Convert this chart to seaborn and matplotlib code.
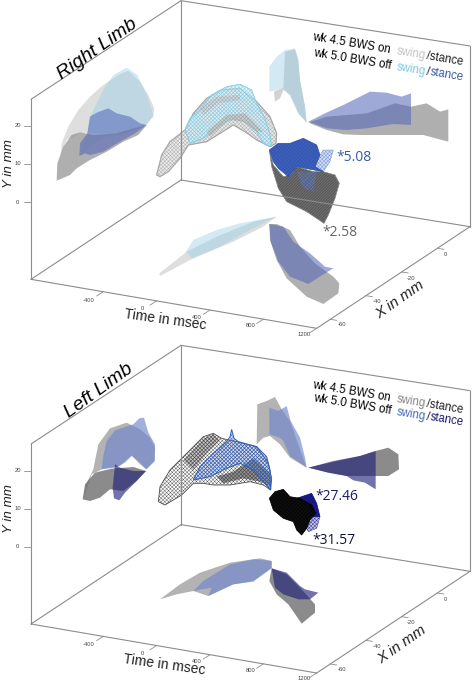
import pandas as pd
import matplotlib
matplotlib.use("Agg")
import matplotlib.pyplot as plt
import seaborn as sns

sns.set_theme(style="white")
plt.rcParams['font.family'] = ['Liberation Sans', 'DejaVu Sans']
plt.rcParams['hatch.linewidth'] = 0.3

# === tick values ===
time_ticks = [-400, 0, 400, 800, 1200]
x_ticks = [0, -20, -40, -60]
y_ticks = [20, 10, 0]

# === outlines (x, y pairs in 3x picture units) ===
# right limb, left wall
r_wall_swing_on = [(182,465),(185,430),(205,380),(235,330),(270,290),(310,255),(355,225),(385,212),(420,245),(445,285),(463,325),(460,350),(438,375),(380,400),(300,400),(240,400),(200,420)]
r_wall_swing_off = [(240,465),(262,400),(270,350),(290,310),(315,260),(340,225),(380,203),(412,225),(440,285),(455,330),(460,345),(440,375),(380,400),(300,420)]
r_wall_stance_on = [(170,542),(172,490),(190,440),(215,405),(240,397),(280,405),(350,400),(400,385),(440,375),(415,405),(370,425),(320,455),(270,480),(230,505),(210,525)]
r_wall_stance_off = [(238,468),(240,430),(262,400),(270,350),(290,338),(325,325),(350,340),(390,350),(420,370),(440,375),(405,400),(360,425),(310,455),(270,465),(255,460)]
# right limb, back wall
r_back_swing_on = [(825,305),(822,275),(850,262),(855,155),(885,148),(895,180),(900,240),(915,320),(920,368),(895,340),(870,285),(850,270),(840,295)]
r_back_swing_off = [(808,275),(808,200),(830,170),(855,150),(885,145),(895,180),(900,240),(915,320),(920,368),(895,340),(870,285),(850,262),(825,272)]
r_back_stance_on = [(925,368),(980,350),(1040,345),(1100,340),(1185,310),(1233,320),(1280,310),(1320,335),(1345,328),(1345,425),(1270,405),(1170,405),(1080,405),(1030,403),(980,390)]
r_back_stance_off = [(925,365),(975,340),(1030,315),(1070,295),(1110,275),(1160,278),(1205,290),(1233,280),(1233,375),(1180,372),(1100,385),(1040,390),(980,385)]
# right limb, floor
r_floor_swing_on = [(478,820),(560,755),(650,710),(760,665),(830,650),(790,680),(700,725),(640,750),(570,780),(480,828)]
r_floor_swing_off = [(558,755),(580,720),(650,690),(720,670),(830,650),(750,690),(650,745),(575,775)]
r_floor_stance_on = [(808,672),(830,672),(870,690),(900,740),(945,790),(1000,830),(1018,850),(1015,880),(970,912),(920,890),(860,835),(830,780),(810,720)]
r_floor_stance_off = [(808,672),(850,680),(880,725),(930,760),(975,800),(1000,805),(975,820),(925,852),(870,830),(835,785),(812,725)]
# right limb, centre meshes
r_mesh_swing_on = [(470,525),(485,465),(510,425),(555,390),(580,340),(620,295),(665,270),(720,265),(770,305),(810,350),(830,400),(828,430),(810,440),(770,420),(735,395),(700,375),(660,400),(620,425),(565,435),(540,475),(505,515),(480,530)]
r_mesh_swing_off = [(555,390),(570,355),(600,330),(635,285),(680,260),(720,253),(755,270),(770,310),(795,355),(810,405),(815,440),(790,430),(770,395),(735,365),(700,355),(655,380),(610,415),(570,430)]
r_mesh_band_a = [(620,395),(680,345),(735,340),(790,395),(770,395),(730,365),(685,360),(630,410)]
r_mesh_band_b = [(600,325),(650,290),(720,285),(720,300),(655,310),(610,345)]
r_mesh_stance_off = [(808,450),(835,430),(870,430),(910,415),(950,435),(960,465),(945,500),(970,515),(890,500),(865,530),(835,505),(820,485)]
r_mesh_stance_wing = [(960,465),(970,450),(1000,450),(990,485),(970,515),(945,500)]
r_mesh_stance_on = [(808,450),(820,495),(850,530),(870,525),(890,500),(940,515),(970,515),(1005,525),(1018,550),(1005,595),(985,645),(972,670),(920,635),(860,605),(835,565),(815,500)]
r_mesh_stance_tail = [(890,515),(950,515),(940,575),(910,565)]

# left limb, left wall
l_wall_swing_on = [(250,475),(258,430),(280,385),(295,310),(330,262),(380,245),(420,265),(450,290),(465,320),(462,360),(438,385),(415,365),(395,343),(375,360),(360,375),(310,383),(275,400)]
l_wall_swing_off = [(305,385),(310,345),(320,300),(345,268),(400,250),(418,232),(432,230),(445,275),(465,310),(465,360),(440,385),(415,360),(395,345),(375,365),(345,380)]
l_wall_stance_on = [(248,475),(255,430),(285,395),(335,383),(400,378),(438,390),(410,420),(370,450),(330,445),(300,470),(270,480)]
l_wall_stance_off = [(338,440),(345,370),(360,380),(400,390),(438,390),(400,430),(375,455),(358,478),(342,472)]
# left limb, back wall
l_back_swing_on = [(770,310),(772,190),(800,180),(825,168),(845,205),(870,240),(905,340),(920,380),(870,350),(840,310),(810,285),(790,290)]
l_back_swing_off = [(808,280),(808,200),(835,210),(860,195),(872,240),(900,290),(915,350),(920,380),(870,345),(850,300),(840,290)]
l_back_stance_on = [(925,380),(990,365),(1080,345),(1127,330),(1165,320),(1195,340),(1197,385),(1165,405),(1127,405),(1040,405),(985,395)]
l_back_stance_off = [(925,380),(1000,360),(1080,345),(1127,330),(1127,445),(1095,425),(1060,418),(1040,405),(985,395)]
# left limb, floor
l_floor_swing_on = [(480,775),(540,730),(600,695),(690,665),(780,652),(815,660),(815,680),(760,720),(700,730),(625,765),(580,750),(530,760)]
l_floor_swing_off = [(580,750),(610,720),(690,670),(760,655),(815,660),(815,682),(760,722),(700,730),(625,765),(635,740)]
l_floor_stance_on = [(815,682),(860,700),(900,740),(945,790),(945,815),(905,848),(865,790),(830,760),(808,720)]
l_floor_stance_off = [(815,682),(860,695),(900,735),(915,745),(955,755),(930,775),(895,775),(850,760),(825,740)]
# left limb, centre meshes
l_mesh_swing_on = [(475,482),(480,437),(510,387),(560,337),(610,287),(640,277),(665,292),(710,302),(770,317),(805,367),(815,412),(812,447),(790,432),(750,422),(690,432),(640,432),(610,427),(580,427),(545,462),(495,492)]
l_mesh_band_a = [(650,407),(700,392),(760,352),(810,397),(812,437),(780,422),(730,412),(670,427)]
l_mesh_band_b = [(550,357),(610,292),(640,279),(660,297),(620,337),(580,387)]
l_mesh_swing_off = [(580,417),(600,377),(640,337),(680,302),(690,287),(695,265),(702,292),(715,302),(770,317),(800,347),(810,387),(812,447),(790,422),(760,387),(720,367),(680,382),(630,407)]
l_mesh_stance_off = [(890,472),(935,457),(950,487),(960,527),(940,527),(930,492)]
l_mesh_stance_wing = [(940,527),(960,527),(950,562),(925,572),(920,562)]
l_mesh_stance_on = [(808,472),(825,452),(850,445),(870,467),(900,472),(935,492),(947,517),(930,537),(920,562),(905,582),(890,567),(880,542),(850,532),(820,507)]


def edge(ax, a, b, lw=0.8, color='#8c8c8c'):
    # one straight line between two picture points
    df = pd.DataFrame({'px': [a[0], b[0]], 'py': [a[1], b[1]]})
    sns.lineplot(data=df, x='px', y='py', ax=ax, color=color, lw=lw, sort=False,
                 estimator=None, legend=False)


def patch(ax, pts, color, alpha):
    ax.fill([p[0] for p in pts], [p[1] for p in pts], color=color, alpha=alpha, lw=0)


def mesh(ax, pts, color, fill=None, alpha=1.0, hatch='x' * 9, lw=0.5):
    xs = [p[0] for p in pts]
    ys = [p[1] for p in pts]
    if fill:
        ax.fill(xs, ys, color=fill, alpha=alpha, lw=0)
    ax.fill(xs, ys, facecolor='none', edgecolor=color, hatch=hatch, lw=lw)


def tilted(ax, x, y, s, rot, size, color='black', **kw):
    ax.text(x, y, s, rotation=rot, rotation_mode='anchor', ha='left', va='baseline',
            fontsize=size, color=color, **kw)


def frame(ax, dy):
    # box edges; dy shifts the whole box down for the second panel
    c = {'lt': (93, 298), 'lb': (93, 838), 'bt': (543, 2), 'bb': (543, 540),
         'rt': (1410, 138), 'rb': (1410, 680), 'fb': (950, 985)}
    c = {k: (v[0], v[1] + dy) for k, v in c.items()}
    for a, b in [('lt', 'lb'), ('lt', 'bt'), ('bt', 'bb'), ('lb', 'bb'), ('bt', 'rt'),
                 ('rt', 'rb'), ('bb', 'rb'), ('lb', 'fb'), ('fb', 'rb')]:
        edge(ax, c[a], c[b])
    # y ticks
    for v in y_ticks:
        py = 607 + dy - v * 11.45
        edge(ax, (73, py), (93, py), lw=0.6)
        ax.text(53, py - 1, str(v), fontsize=4.2, color='#444444', ha='center', va='center')
    # time ticks
    for v in time_ticks:
        f = (v + 400) / 1600
        px, py = 310 + f * 640, 875 + dy + f * 110
        edge(ax, (px, py), (px - 20, py + 13), lw=0.6)
        ax.text(266 + f * 647, 900 + dy + f * 103, str(v), fontsize=4.2, color='#444444',
                ha='center', va='center')
    # x ticks
    for v in x_ticks:
        f = -v / 60
        px, py = 1312 - f * 322, 745 + dy + f * 213
        edge(ax, (px, py), (px + 20, py + 3), lw=0.6)
        ax.text(1337 - f * 310, 764 + dy + f * 211, str(v), fontsize=4.2, color='#444444',
                ha='center', va='center')


def legend(ax, y1, y2, c_on, c_sw, c_st):
    rot, fs, k = -9.5, 8.3, 0.167
    tilted(ax, 937, y1, 'wk 4.5 BWS on', rot, fs)
    tilted(ax, 1188, y1 + 251 * k, 'swing', rot, fs, color=c_on)
    tilted(ax, 1279, y1 + 342 * k, '/stance', rot, fs, color='#222222')
    tilted(ax, 940, y2, 'wk 5.0 BWS off', rot, fs)
    tilted(ax, 1190, y2 + 250 * k, 'swing', rot, fs, color=c_sw)
    tilted(ax, 1279, y2 + 339 * k, '/', rot, fs, color='#222222')
    tilted(ax, 1288, y2 + 348 * k, 'stance', rot, fs, color=c_st)


fig = plt.figure(figsize=(4.72, 6.82), dpi=100)
ax_r = fig.add_axes([0, 0.5, 1, 0.5])
ax_l = fig.add_axes([0, 0, 1, 0.5])
for ax in (ax_r, ax_l):
    ax.set_xlim(0, 1416)
    ax.set_ylim(1023, 0)
    ax.axis('off')

# === Right limb ===
ax = ax_r
frame(ax, 0)
for pts in (r_wall_swing_on, r_floor_swing_on):
    patch(ax, pts, '#c8c8c8', 0.6)
patch(ax, r_back_swing_on, '#c0c0c0', 0.7)
for pts in (r_wall_swing_off, r_back_swing_off, r_floor_swing_off):
    patch(ax, pts, '#96cfe8', 0.42)
for pts in (r_wall_stance_on, r_back_stance_on, r_floor_stance_on):
    patch(ax, pts, '#8e8e8e', 0.7)
for pts in (r_wall_stance_off, r_back_stance_off, r_floor_stance_off):
    patch(ax, pts, '#5467b9', 0.56)
mesh(ax, r_mesh_swing_on, '#a8a8a8', fill='#c4c4c4', alpha=0.35, lw=0.9)
mesh(ax, r_mesh_swing_off, '#84cfe9', fill='#cfeaf5', alpha=0.45, lw=0.7)
mesh(ax, r_mesh_band_a, '#a0a0a0', fill='#bdbdbd', alpha=0.6, lw=0)
mesh(ax, r_mesh_band_b, '#a8a8a8', fill='#cccccc', alpha=0.4, lw=0)
mesh(ax, r_mesh_stance_on, '#8a8a8a', fill='#565656', alpha=0.98, hatch='/' * 12)
mesh(ax, r_mesh_stance_tail, '#5c7cc8', fill='#5a6a90', alpha=0.25, lw=0)
mesh(ax, r_mesh_stance_wing, '#6f8ed6', fill='#b8c8ec', alpha=0.6, lw=0.3)
mesh(ax, r_mesh_stance_off, '#2f52b0', fill='#3357b4', alpha=0.95)
tilted(ax, 1008, 482, '*5.08', 0, 10, color='#3a5aa8', family=['Open Sans'])
tilted(ax, 968, 708, '*2.58', 0, 10, color='#666666', family=['Open Sans'])
legend(ax, 121, 168, '#c4c4c4', '#7cc8e8', '#3a5aa8')
tilted(ax, 185, 238, 'Right Limb', 35, 14, style='italic')
tilted(ax, 35, 565, 'Y in mm', 90, 9.6, style='italic', color='#222222')
tilted(ax, 372, 955, 'Time in msec', -8, 10, color='#222222')
tilted(ax, 1138, 958, 'X in mm', 35, 11, style='italic', color='#222222')

# === Left limb ===
ax = ax_l
frame(ax, 11)
for pts in (l_wall_swing_on, l_back_swing_on, l_floor_swing_on):
    patch(ax, pts, '#a6a6a6', 0.85)
for pts in (l_wall_swing_off, l_back_swing_off, l_floor_swing_off):
    patch(ax, pts, '#6f85cc', 0.65)
for pts in (l_wall_stance_on, l_back_stance_on, l_floor_stance_on):
    patch(ax, pts, '#6e6e6e', 0.8)
for pts in (l_wall_stance_off, l_back_stance_off, l_floor_stance_off):
    patch(ax, pts, '#1e1e78', 0.62)
mesh(ax, l_mesh_swing_on, '#4d4d4d', lw=0.6)
mesh(ax, l_mesh_band_a, '#444444', fill='#6a6a6a', alpha=0.7, lw=0)
mesh(ax, l_mesh_band_b, '#444444', fill='#8a8a8a', alpha=0.5, lw=0)
mesh(ax, l_mesh_swing_off, '#2f5fc0', fill='#4a70c8', alpha=0.25, lw=0.7)
mesh(ax, l_mesh_stance_wing, '#2a2a90', fill='#9a9ae0', alpha=0.6, lw=0.3)
mesh(ax, l_mesh_stance_off, '#101080', fill='#101080', alpha=0.95)
mesh(ax, l_mesh_stance_on, '#000000', fill='#0a0a0a', alpha=0.98)
tilted(ax, 945, 478, '*27.46', 0, 10, color='#1a1a6e', family=['Open Sans'])
tilted(ax, 938, 610, '*31.57', 0, 10, color='#10103a', family=['Open Sans'])
legend(ax, 141, 180, '#888888', '#4a6ab8', '#1a1a6e')
tilted(ax, 207, 232, 'Left Limb', 36, 14, style='italic')
tilted(ax, 35, 575, 'Y in mm', 90, 9.6, style='italic', color='#222222')
tilted(ax, 370, 965, 'Time in msec', -8, 10, color='#222222')
tilted(ax, 1143, 968, 'X in mm', 35, 11, style='italic', color='#222222')

fig.savefig('out.png', dpi=100)
